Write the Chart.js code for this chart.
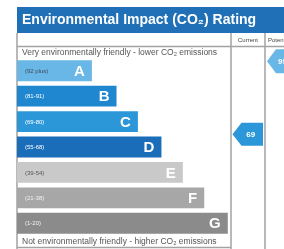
<!DOCTYPE html>
<html><head><meta charset="utf-8">
<script src="https://cdn.jsdelivr.net/npm/chart.js@4/dist/chart.umd.min.js"></script>
<style>html,body{margin:0;padding:0;background:#fff;overflow:hidden}canvas{display:block}</style>
</head><body>
<canvas id="c" width="284" height="249"></canvas>
<script>
const bands = ['A','B','C','D','E','F','G'];
const ranges = ['(92 plus)','(81-91)','(69-80)','(55-68)','(39-54)','(21-38)','(1-20)'];
const rangeLow = [92,81,69,55,39,21,1];
const rangeHigh = [100,91,80,68,54,38,20];
const barLengths = [3.5,4.65,5.65,6.75,7.75,8.75,9.85];
const bandColors = ['#69b7e6','#1f87d0','#2b97d9','#1a6db9','#c9c9c9','#a7a7a7','#8b8b8b'];
const labelColors = ['#3d4a55','#ffffff','#ffffff','#ffffff','#555555','#f2f2f2','#f2f2f2'];
const currentRating = 69;
const potentialRating = 99;
const titleText = 'Environmental Impact (CO\u2082) Rating';
const topText = 'Very environmentally friendly - lower CO\u2082 emissions';
const bottomText = 'Not environmentally friendly - higher CO\u2082 emissions';
const colHeaders = ['Current','Potential'];

function fitFont(ctx, text, width, weight, fam){
  let s = 20;
  do { ctx.font = weight+' '+s+'px '+fam; s -= 0.25; } while (ctx.measureText(text).width > width && s > 3);
}
function bandIndex(r){ for(let i=0;i<bands.length;i++){ if(r>=rangeLow[i]) return i; } return bands.length-1; }
function ratingY(yScale, r){
  const i = bandIndex(r);
  const c = yScale.getPixelForValue(i);
  const step = yScale.getPixelForValue(1) - yScale.getPixelForValue(0);
  const frac = (rangeHigh[i] - Math.min(r, rangeHigh[i])) / (rangeHigh[i] - rangeLow[i]);
  return c - step/2 + frac*step;
}
function drawArrow(ctx, x0, x1, yc, h, color, text){
  ctx.beginPath();
  ctx.moveTo(x0, yc);
  ctx.lineTo(x0+9, yc-h/2);
  ctx.lineTo(x1, yc-h/2);
  ctx.lineTo(x1, yc+h/2);
  ctx.lineTo(x0+9, yc+h/2);
  ctx.closePath();
  ctx.fillStyle = color; ctx.fill();
  ctx.fillStyle = '#ffffff';
  ctx.font = 'bold 8px "Liberation Sans", Arial, sans-serif';
  ctx.textAlign = 'center'; ctx.textBaseline = 'middle';
  ctx.fillText(text, (x0+6+x1)/2, yc+0.5);
}

const frame = {
  id: 'frame',
  beforeDraw(chart){
    const ctx = chart.ctx; const a = chart.chartArea;
    ctx.save();
    ctx.fillStyle = '#ffffff'; ctx.fillRect(0,0,chart.width,chart.height);
    // title bar
    ctx.fillStyle = '#1f70b6';
    ctx.fillRect(a.left, 7, chart.width - a.left, 26);
    ctx.fillStyle = '#ffffff';
    fitFont(ctx, titleText, 236, 'bold', '"Liberation Sans", Arial, sans-serif');
    ctx.textAlign = 'left'; ctx.textBaseline = 'middle';
    ctx.fillText(titleText, a.left+5, 20.5);
    // texts
    ctx.fillStyle = '#555555';
    fitFont(ctx, topText, 200, 'normal', '"Liberation Sans", Arial, sans-serif');
    ctx.fillText(topText, a.left+5, 53);
    fitFont(ctx, bottomText, 200, 'normal', '"Liberation Sans", Arial, sans-serif');
    ctx.fillText(bottomText, a.left+5, 241.5);
    // column headers
    ctx.font = '6px "Liberation Sans", Arial, sans-serif';
    ctx.fillStyle = '#444444';
    ctx.textAlign = 'center';
    ctx.fillText(colHeaders[0], (a.right + a.right + 34)/2, 40);
    ctx.textAlign = 'left';
    ctx.fillText(colHeaders[1], a.right + 37, 40);
    // lines
    ctx.strokeStyle = '#a3a3a3'; ctx.lineWidth = 1.5;
    ctx.beginPath();
    ctx.moveTo(a.left, 33); ctx.lineTo(a.left, 249);
    ctx.moveTo(a.right, 33); ctx.lineTo(a.right, 249);
    ctx.moveTo(a.right+34, 33); ctx.lineTo(a.right+34, 249);
    ctx.moveTo(a.left, 46.5); ctx.lineTo(chart.width, 46.5);
    ctx.moveTo(a.left, 247.5); ctx.lineTo(a.right, 247.5);
    ctx.stroke();
    ctx.restore();
  },
  afterDatasetsDraw(chart){
    const ctx = chart.ctx; const a = chart.chartArea;
    const meta = chart.getDatasetMeta(0);
    ctx.save();
    meta.data.forEach((bar, i) => {
      ctx.textBaseline = 'middle';
      ctx.textAlign = 'left';
      ctx.fillStyle = labelColors[i];
      ctx.font = '6px "Liberation Sans", Arial, sans-serif';
      ctx.fillText(ranges[i], a.left + 8, bar.y + 0.5);
      ctx.textAlign = 'right';
      ctx.font = 'bold 15px "Liberation Sans", Arial, sans-serif';
      ctx.fillStyle = '#ffffff';
      ctx.fillText(bands[i], bar.x - 7, bar.y + 1);
    });
    const ys = chart.scales.y;
    drawArrow(ctx, a.right + 1.5, a.right + 32, ratingY(ys, currentRating), 23, bandColors[bandIndex(currentRating)], String(currentRating));
    drawArrow(ctx, a.right + 36, chart.width + 8, ratingY(ys, potentialRating), 24, bandColors[bandIndex(potentialRating)], String(potentialRating));
    ctx.restore();
  }
};

new Chart(document.getElementById('c'), {
  type: 'bar',
  data: { labels: bands, datasets: [{ data: barLengths, backgroundColor: bandColors, borderWidth: 0, barPercentage: 0.82, categoryPercentage: 1 }] },
  options: {
    indexAxis: 'y', responsive: false, animation: false,
    layout: { padding: { left: 17, right: 53, top: 58, bottom: 13 } },
    plugins: { legend: { display: false }, tooltip: { enabled: false } },
    scales: {
      x: { display: false, min: 0, max: 10 },
      y: { display: false }
    }
  },
  plugins: [frame]
});
</script>
</body></html>
